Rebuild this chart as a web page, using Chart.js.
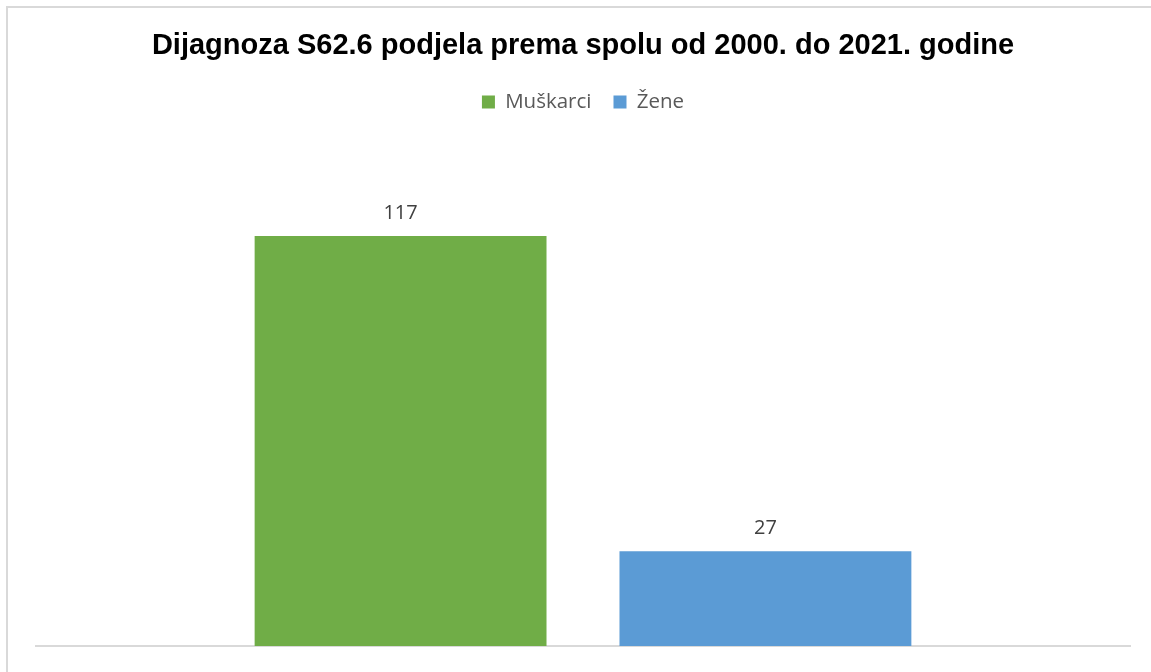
<!DOCTYPE html>
<html>
<head>
<meta charset="utf-8">
<script src="https://cdn.jsdelivr.net/npm/chart.js@4"></script>
<style>
  body { margin: 0; background: #fff; }
  #frame { position: absolute; left: 6px; top: 6px; width: 1200px; height: 720px; border: 2px solid #d9d9d9; }
  #wrap { position: absolute; left: 0; top: 0; width: 1151px; height: 672px; }
</style>
</head>
<body>
<div id="frame"></div>
<div id="wrap"><canvas id="chart"></canvas></div>
<script>
// data
const categories = [''];
const seriesNames = ['Muškarci', 'Žene'];
const muskarci = [117];
const zene = [27];
const colors = ['#70AD47', '#5B9BD5'];

// value labels above each bar (no datalabels plugin here)
const valueLabels = {
  id: 'valueLabels',
  afterDatasetsDraw(chart) {
    const ctx = chart.ctx;
    ctx.save();
    ctx.font = '20px "Open Sans"';
    ctx.fillStyle = '#404040';
    ctx.textAlign = 'center';
    ctx.textBaseline = 'bottom';
    chart.data.datasets.forEach((ds, i) => {
      chart.getDatasetMeta(i).data.forEach((bar, j) => {
        ctx.fillText(ds.data[j], bar.x, bar.y - 13);
      });
    });
    ctx.restore();
  }
};

// extra room under the legend, like the excel plot area gap
const legendGap = {
  id: 'legendGap',
  afterInit(chart) {
    const lg = chart.legend;
    if (!lg) return;
    const fit = lg.fit;
    lg.fit = function () {
      fit.call(this);
      this.height += 33;
    };
  }
};

new Chart(document.getElementById('chart'), {
  type: 'bar',
  data: {
    labels: categories,
    datasets: [
      { label: seriesNames[0], data: muskarci, backgroundColor: colors[0] },
      { label: seriesNames[1], data: zene, backgroundColor: colors[1] }
    ]
  },
  options: {
    responsive: true,
    maintainAspectRatio: false,
    animation: false,
    devicePixelRatio: 1,
    categoryPercentage: 0.667,
    barPercentage: 0.8,
    layout: { padding: { left: 36, right: 21, top: 0, bottom: 26 } },
    plugins: {
      title: {
        display: true,
        text: 'Dijagnoza S62.6 podjela prema spolu od 2000. do 2021. godine',
        color: '#000',
        font: { family: '"Liberation Sans", Arial, sans-serif', size: 29, weight: 'bold' },
        padding: { top: 29, bottom: 6 }
      },
      legend: {
        position: 'top',
        labels: {
          boxWidth: 13,
          boxHeight: 13,
          padding: 22,
          color: '#595959',
          font: { family: '"Open Sans"', size: 20.5 }
        }
      },
      tooltip: { enabled: false }
    },
    scales: {
      x: {
        grid: { display: false, drawTicks: false },
        border: { display: true, color: '#d9d9d9', width: 2 },
        ticks: { display: false }
      },
      y: {
        display: false,
        min: 0,
        max: 140
      }
    }
  },
  plugins: [valueLabels, legendGap]
});
</script>
</body>
</html>
